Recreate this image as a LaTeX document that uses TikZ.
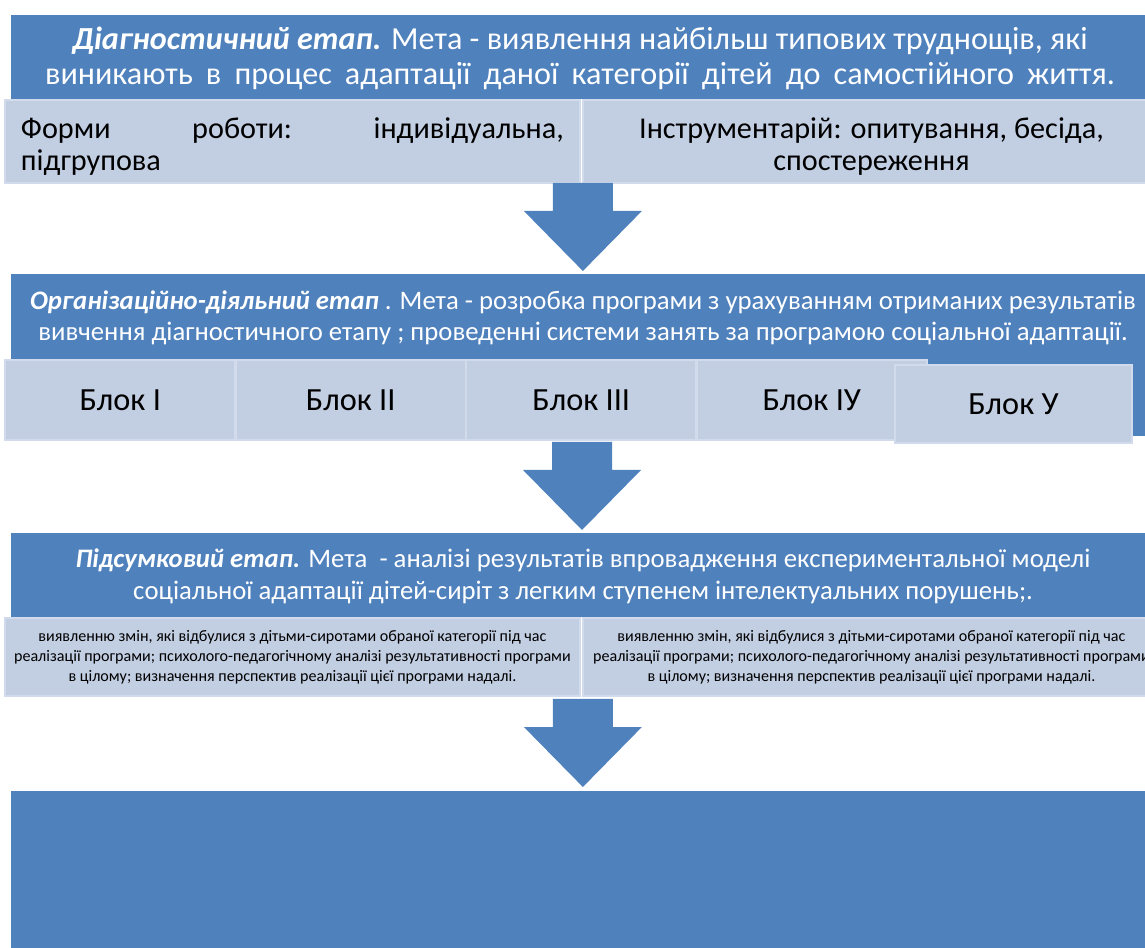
\documentclass[tikz,border=0pt]{standalone}
\usepackage{fontspec}
\setmainfont{Carlito}
\usetikzlibrary{positioning,calc}

\definecolor{stageblue}{RGB}{79,129,189}
\definecolor{panelgray}{RGB}{194,206,226}
\definecolor{paneledge}{RGB}{210,219,235}

\tikzset{
    stage/.style={fill=stageblue, draw=white, line width=0.6pt},
    panel/.style={fill=panelgray, draw=paneledge, line width=1.2pt, inner sep=0pt, outer sep=0pt, anchor=north west},
    headtext/.style={text=white, align=center, inner sep=0pt},
    paneltext/.style={font=\fontsize{17.2}{18.3}\selectfont},
    blockbox/.style={panel, minimum width=4.61cm, minimum height=1.6cm, font=\fontsize{18.4}{20}\selectfont},
    smalltext/.style={panel, minimum width=11.54cm, minimum height=1.56cm, align=center, font=\fontsize{9.15}{11.4}\selectfont},
    pics/downarrow/.style={code={
        \fill[stageblue] (-30,0) -- (30,0) -- (30,28) -- (59,28) -- (0,88) -- (-59,28) -- (-30,28) -- cycle;
    }}
}

\begin{document}
\begin{tikzpicture}[x=0.02cm, y=-0.02cm]
        \useasboundingbox (0,0) rectangle (1145,947);
        \clip (0,0) rectangle (1145,947);
        % stage panels
        \draw [stage] (10,14) rectangle (1160,100);
        \draw [stage] (10,273) rectangle (1160,437);
        \draw [stage] (10,532) rectangle (1160,618);
        \draw [stage] (10,790) rectangle (1160,960);
        % diagnostic stage
        \node [headtext, font=\fontsize{18.3}{19.9}\selectfont] (diag) at (580,58) {\textbf{\textit{Діагностичний етап.}} Мета - виявлення найбільш типових труднощів, які\\\makebox[21.4cm][s]{виникають в процес адаптації даної категорії дітей до самостійного життя.}};
        \node [panel, paneltext, minimum width=11.5cm, minimum height=1.66cm, text width=10.86cm, align=left] (formy) at (5,100) {\rule{0pt}{18pt}Форми\hfill роботи:\hfill індивідуальна,\\підгрупова};
        \node [panel, paneltext, minimum width=11.54cm, minimum height=1.66cm, align=center] (instr) at (583,100) {\rule{0pt}{18pt}Інструментарій: опитування, бесіда,\\спостереження};
        \pic at ($(formy.south east)+(3,0)$) {downarrow};
        % organisation stage
        \node [headtext, font=\fontsize{15.2}{17.6}\selectfont] (org) at (583,318) {\textbf{\textit{Організаційно-діяльний етап}} . Мета - розробка програми з урахуванням отриманих результатів\\вивчення діагностичного етапу ; проведенні системи занять за програмою соціальної адаптації.};
        \foreach \lab [count=\i] in {I, II, III, ІУ}{
            \node [blockbox] (blok\i) at ({5+(\i-1)*230.5}, 360) {Блок \lab};
        }
        \node [blockbox, minimum width=4.74cm, minimum height=1.56cm] (blok5) at (895,365) {Блок У};
        \pic at ($(blok3.south west)+(116,2)$) {downarrow};
        % summary stage
        \node [headtext, font=\fontsize{15.2}{18.2}\selectfont] (pidsum) at (583,576) {\textbf{\textit{Підсумковий етап.}} Мета~ - аналізі результатів впровадження експериментальної моделі\\соціальної адаптації дітей-сиріт з легким ступенем інтелектуальних порушень;.};
        \node [smalltext, minimum width=11.5cm] (zminy1) at (5,618) {виявленню змін, які відбулися з дітьми-сиротами обраної категорії під час\\реалізації програми; психолого-педагогічному аналізі результативності програми\\в цілому; визначення перспектив реалізації цієї програми надалі.};
        \node [smalltext] (zminy2) at (583,618) {виявленню змін, які відбулися з дітьми-сиротами обраної категорії під час\\реалізації програми; психолого-педагогічному аналізі результативності програми\\в цілому; визначення перспектив реалізації цієї програми надалі.};
        \pic at ($(zminy1.south east)+(3,3)$) {downarrow};
\end{tikzpicture}
\end{document}
